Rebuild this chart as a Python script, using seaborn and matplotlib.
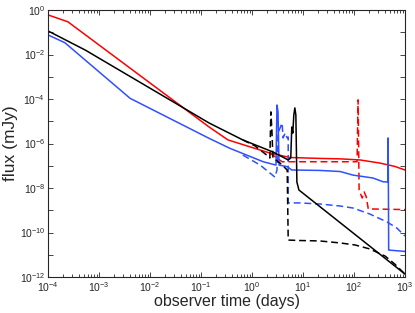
import numpy as np
import pandas as pd
import matplotlib
matplotlib.use("Agg")
import matplotlib.pyplot as plt
import matplotlib.ticker as mticker
import seaborn as sns

# values, as log10(time / days) and log10(flux / mJy)
red_solid_logt = [-4.00, -3.61, -0.84, -0.47, 0.35, 0.75, 1.33, 1.73, 2.12, 2.51, 2.80, 3.00]
red_solid_logf = [-0.22, -0.53, -5.26, -5.84, -6.43, -6.63, -6.67, -6.69, -6.74, -6.88, -7.03, -7.19]

red_dash_logt = [0.35, 0.59, 2.06, 2.08, 2.10, 2.16, 2.20, 2.24, 2.28, 3.00]
red_dash_logf = [-6.43, -6.82, -6.82, -4.04, -8.09, -8.45, -8.18, -8.40, -8.94, -8.97]

black_solid_logt = [-4.00, -3.27, -0.84, -0.18, 0.41, 0.71, 0.76, 0.78, 0.80, 0.82, 0.84, 0.86, 0.88, 0.92, 3.00]
black_solid_logf = [-0.94, -1.80, -5.08, -5.84, -6.38, -6.74, -6.65, -5.26, -5.53, -4.72, -4.40, -4.72, -7.73, -8.09, -11.87]

black_dash_logt = [-0.18, 0.06, 0.31, 0.35, 0.37, 0.39, 0.41, 0.55, 0.69, 0.71, 0.94, 1.33, 1.73, 2.02, 2.31, 2.61, 2.80, 3.00]
black_dash_logf = [-5.84, -6.11, -6.56, -6.65, -4.58, -5.39, -6.65, -6.88, -7.19, -10.34, -10.36, -10.38, -10.47, -10.56, -10.74, -11.06, -11.42, -11.87]

blue_solid_logt = [-4.00, -3.67, -2.39, -0.84, -0.43, 0.22, 0.47, 0.49, 0.51, 0.53, 0.69, 0.78, 1.33, 1.73, 1.98, 2.37, 2.57, 2.67, 2.67, 2.68, 3.00]
blue_solid_logf = [-1.12, -1.47, -3.97, -5.77, -6.22, -6.82, -6.97, -4.27, -4.58, -6.97, -7.04, -7.19, -7.21, -7.26, -7.42, -7.55, -7.72, -7.73, -5.75, -10.79, -10.85]

blue_dash_logt = [-0.18, 0.16, 0.45, 0.49, 0.51, 0.59, 0.61, 0.65, 0.69, 0.71, 0.71, 0.94, 1.33, 1.73, 1.98, 2.31, 2.65, 2.84, 3.00]
blue_dash_logf = [-6.52, -6.97, -7.51, -7.19, -5.53, -5.08, -5.75, -5.53, -5.75, -5.71, -8.67, -8.67, -8.72, -8.81, -8.90, -9.17, -9.53, -9.80, -10.16]

# labelled decades on the y axis, the odd ones only get a tick
y_label_exps = [0, -2, -4, -6, -8, -10, -12]
y_tick_exps = [-1, -3, -5, -7, -9, -11]

curves = [
    (red_solid_logt, red_solid_logf, "#ff0000", "-"),
    (red_dash_logt, red_dash_logf, "#ff0000", "--"),
    (blue_solid_logt, blue_solid_logf, "#3050ff", "-"),
    (blue_dash_logt, blue_dash_logf, "#3050ff", "--"),
    (black_dash_logt, black_dash_logf, "black", "--"),
    (black_solid_logt, black_solid_logf, "black", "-"),
]

sns.set_style("ticks")
plt.rcParams["font.family"] = ["Liberation Sans", "DejaVu Sans"]
plt.rcParams["mathtext.fontset"] = "custom"
plt.rcParams["mathtext.rm"] = "Liberation Sans"
plt.rcParams["mathtext.it"] = "Liberation Sans"
plt.rcParams["mathtext.default"] = "regular"

fig = plt.figure(figsize=(4.15, 3.13), dpi=100)
ax = fig.add_axes([48 / 415, 36 / 313, 357 / 415, 267 / 313])

for logt, logf, col, ls in curves:
    df = pd.DataFrame({"t": 10 ** np.array(logt), "flux": 10 ** np.array(logf)})
    sns.lineplot(data=df, x="t", y="flux", sort=False, estimator=None,
                 color=col, linestyle=ls, linewidth=1.1, ax=ax)
for line in ax.lines:
    if line.get_linestyle() == "--":
        line.set_dashes((4.5, 2.5))

ax.set_xscale("log")
ax.set_yscale("log")
ax.set_xlim(1e-4, 1e3)
ax.set_ylim(1e-12, 1)

ax.xaxis.set_major_locator(mticker.LogLocator(base=10, numticks=20))
ax.xaxis.set_minor_locator(mticker.LogLocator(base=10, subs=np.arange(2, 10), numticks=20))
ax.xaxis.set_minor_formatter(mticker.NullFormatter())

ax.yaxis.set_major_locator(mticker.FixedLocator([10.0 ** e for e in y_label_exps]))
ax.yaxis.set_major_formatter(mticker.FixedFormatter([r"$10^{%d}$" % e for e in y_label_exps]))
ax.yaxis.set_minor_locator(mticker.FixedLocator([10.0 ** e for e in y_tick_exps]))
ax.yaxis.set_minor_formatter(mticker.NullFormatter())

ax.tick_params(which="both", direction="in", top=True, right=True, labelsize=7.5, width=0.6, pad=2)
ax.tick_params(which="major", length=3.5)
ax.tick_params(which="minor", length=2)
ax.tick_params(axis="y", which="minor", length=3.5)
for s in ax.spines.values():
    s.set_linewidth(0.8)

ax.set_xlabel("observer time (days)", fontsize=11.5, labelpad=0)
ax.set_ylabel("flux (mJy)", fontsize=12.5, labelpad=1)

fig.savefig("out.png", dpi=100)
